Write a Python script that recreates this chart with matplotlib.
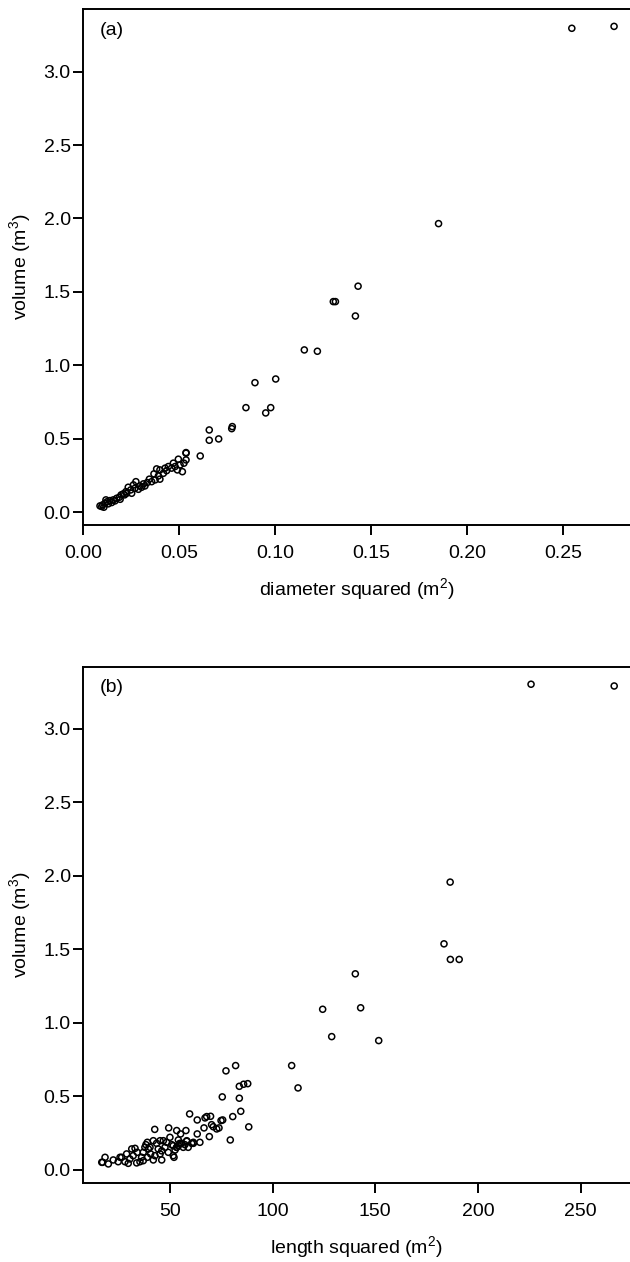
import matplotlib
matplotlib.use("Agg")
import matplotlib.pyplot as plt

plt.rcParams['font.family'] = ['Liberation Sans', 'DejaVu Sans']
plt.rcParams['mathtext.fontset'] = 'custom'
plt.rcParams['mathtext.rm'] = 'Liberation Sans'
plt.rcParams['mathtext.default'] = 'regular'

# panel (a): diameter squared (m2) vs volume (m3)
diam_sq = [0.2544, 0.2764, 0.185, 0.1431, 0.1302, 0.1313, 0.1417, 0.1151, 0.1219,
           0.1002, 0.0894, 0.0847, 0.0976, 0.0950, 0.0776, 0.0773, 0.0656, 0.0656,
           0.0705, 0.0535, 0.0609,
           0.0535, 0.0535, 0.0524, 0.0495, 0.0490, 0.0516, 0.0469, 0.0443, 0.0426,
           0.0399, 0.0382, 0.0391, 0.0399, 0.0368, 0.0344, 0.0333, 0.0313, 0.0295,
           0.0274, 0.0269, 0.0247, 0.0234, 0.0222, 0.0208, 0.0197, 0.0188, 0.0174,
           0.0156, 0.0139, 0.0125, 0.0113, 0.0101, 0.0096, 0.0107, 0.0130, 0.0148,
           0.0165, 0.0192, 0.0215, 0.0252, 0.0287, 0.0304, 0.0321, 0.0356, 0.0374,
           0.0417, 0.0434, 0.0460, 0.0478, 0.0504, 0.0087, 0.0118, 0.0226, 0.0261]
vol_a = [3.295, 3.308, 1.965, 1.539, 1.434, 1.434, 1.336, 1.105, 1.096,
         0.907, 0.882, 0.712, 0.712, 0.676, 0.583, 0.569, 0.560, 0.490,
         0.499, 0.402, 0.383,
         0.406, 0.356, 0.334, 0.361, 0.288, 0.276, 0.334, 0.311, 0.300,
         0.288, 0.295, 0.247, 0.225, 0.261, 0.225, 0.202, 0.193, 0.179,
         0.208, 0.163, 0.152, 0.170, 0.140, 0.125, 0.118, 0.102, 0.095,
         0.084, 0.079, 0.072, 0.061, 0.050, 0.039, 0.034, 0.057, 0.066,
         0.077, 0.088, 0.118, 0.129, 0.156, 0.170, 0.179, 0.208, 0.220,
         0.265, 0.283, 0.300, 0.311, 0.322, 0.043, 0.084, 0.129, 0.186]

# panel (b): length squared (m2) vs volume (m3)
len_sq = [225.9, 266.4, 186.5, 183.5, 186.6, 190.9, 140.3, 124.4, 142.9, 128.8,
          151.7, 109.3, 112.4, 82.0, 77.3, 87.9, 85.9, 83.8, 75.5, 83.8, 84.5,
          80.6, 88.4, 79.4, 59.6, 63.3, 67.1, 67.9, 69.8, 74.9, 75.7, 66.6, 70.3,
          71.1, 72.8, 73.9, 69.2, 63.3, 61.4, 58.2, 54.9, 53.3, 51.6, 57.8, 53.3,
          55.2, 49.4, 42.6, 64.6,
          16.8, 18.4, 20.0, 24.8, 26.5, 28.1, 28.9, 30.5, 31.4, 32.1, 33.0, 33.8,
          35.4, 36.2, 37.0, 37.8, 38.3, 39.0, 39.5, 40.6, 41.9, 42.7, 43.5, 44.3,
          45.2, 46.0, 46.8, 47.6, 48.4, 49.2, 50.0, 50.9, 51.6, 52.0, 52.5, 53.3,
          54.1, 54.6, 55.7, 57.3, 58.2, 58.9, 60.6, 61.4, 40.3, 41.9, 45.2, 46.0,
          39.0, 29.7, 25.7, 22.4, 37.0, 34.1, 54.1, 56.5, 17.2]
vol_b = [3.304, 3.292, 1.958, 1.538, 1.432, 1.432, 1.334, 1.093, 1.103, 0.907,
         0.880, 0.710, 0.558, 0.710, 0.674, 0.587, 0.583, 0.569, 0.497, 0.488, 0.399,
         0.363, 0.293, 0.204, 0.381, 0.340, 0.354, 0.363, 0.365, 0.336, 0.340, 0.286,
         0.308, 0.294, 0.279, 0.286, 0.227, 0.245, 0.181, 0.195, 0.181, 0.154, 0.165,
         0.268, 0.268, 0.245, 0.286, 0.276, 0.188,
         0.052, 0.086, 0.041, 0.056, 0.086, 0.056, 0.109, 0.075, 0.143, 0.097, 0.147,
         0.048, 0.056, 0.086, 0.120, 0.154, 0.172, 0.188, 0.143, 0.109, 0.068, 0.097,
         0.181, 0.143, 0.109, 0.068, 0.199, 0.154, 0.188, 0.120, 0.222, 0.172, 0.097,
         0.086, 0.136, 0.154, 0.165, 0.177, 0.181, 0.172, 0.199, 0.154, 0.181, 0.188,
         0.154, 0.199, 0.199, 0.130, 0.086, 0.045, 0.086, 0.068, 0.063, 0.120, 0.204,
         0.154, 0.052]

yticks = [0.0, 0.5, 1.0, 1.5, 2.0, 2.5, 3.0]
xticks_a = [0.00, 0.05, 0.10, 0.15, 0.20, 0.25]
xticks_b = [50, 100, 150, 200, 250]

fig = plt.figure(figsize=(6.3, 12.62), dpi=100)
ax1 = fig.add_axes([0.1322, 0.5840, 0.8678, 0.4086])
ax2 = fig.add_axes([0.1322, 0.0628, 0.8678, 0.4090])


def style(ax):
    for s in ['left', 'bottom', 'top']:
        ax.spines[s].set_linewidth(1.4)
    ax.spines['right'].set_visible(False)
    ax.tick_params(axis='both', direction='out', length=7.5, width=1.4,
                   labelsize=14, colors='black')
    ax.tick_params(axis='y', pad=1.5)
    ax.tick_params(axis='x', pad=7)
    ax.set_yticks(yticks)
    ax.set_yticklabels([f'{t:.1f}' for t in yticks])
    ax.set_ylim(-0.087, 3.424)
    ax.set_ylabel('volume (m$^{3}$)', fontsize=14, labelpad=8)


ax1.scatter(diam_sq, vol_a, s=19, facecolors='none', edgecolors='black', linewidths=1.1)
style(ax1)
ax1.set_xlim(0, 0.2847)
ax1.set_xticks(xticks_a)
ax1.set_xticklabels([f'{t:.2f}' for t in xticks_a])
ax1.set_xlabel('diameter squared (m$^{2}$)', fontsize=14, labelpad=10)
ax1.text(0.03, 0.975, '(a)', transform=ax1.transAxes, fontsize=14, va='top', ha='left')

ax2.scatter(len_sq, vol_b, s=19, facecolors='none', edgecolors='black', linewidths=1.1)
style(ax2)
ax2.set_xlim(7.8, 274.1)
ax2.set_xticks(xticks_b)
ax2.set_xlabel('length squared (m$^{2}$)', fontsize=14, labelpad=10)
ax2.text(0.03, 0.975, '(b)', transform=ax2.transAxes, fontsize=14, va='top', ha='left')

fig.savefig('out.png', dpi=100)
